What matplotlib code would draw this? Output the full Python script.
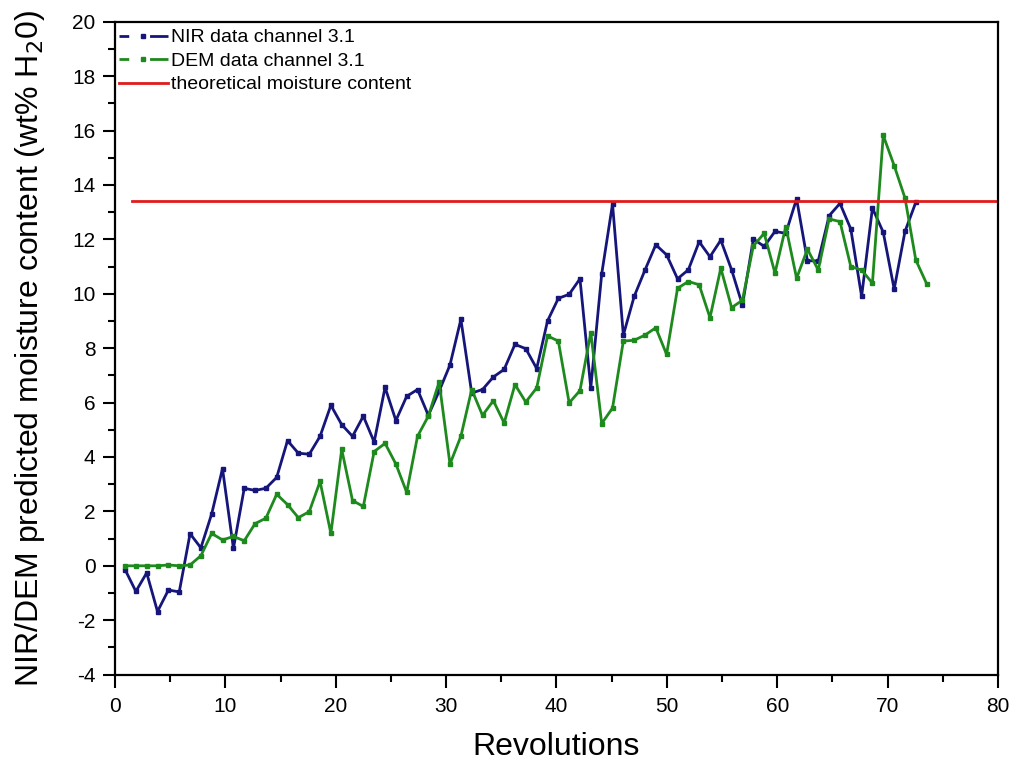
import matplotlib.pyplot as plt
from matplotlib.lines import Line2D
from matplotlib.ticker import MultipleLocator

plt.rcParams['font.family'] = ['Liberation Sans', 'DejaVu Sans']
plt.rcParams['axes.unicode_minus'] = False

# --- data ---
rev_nir = [0.91, 1.89, 2.87, 3.85, 4.84, 5.82, 6.80, 7.78, 8.76, 9.74,
           10.73, 11.71, 12.69, 13.67, 14.65, 15.63, 16.61, 17.60, 18.58, 19.56,
           20.54, 21.52, 22.50, 23.48, 24.47, 25.45, 26.43, 27.41, 28.39, 29.37,
           30.35, 31.34, 32.32, 33.30, 34.28, 35.26, 36.24, 37.22, 38.21, 39.19,
           40.17, 41.15, 42.13, 43.11, 44.10, 45.08, 46.06, 47.04, 48.02, 49.00,
           49.98, 50.97, 51.95, 52.93, 53.91, 54.89, 55.87, 56.85, 57.84, 58.82,
           59.80, 60.78, 61.76, 62.74, 63.72, 64.71, 65.69, 66.67, 67.65, 68.63,
           69.61, 70.60, 71.58, 72.56]
rev_dem = rev_nir + [73.54]

nir = [-0.14, -0.94, -0.26, -1.68, -0.89, -0.96, 1.18, 0.66, 1.91, 3.57,
       0.64, 2.85, 2.77, 2.85, 3.25, 4.60, 4.14, 4.10, 4.76, 5.90,
       5.19, 4.76, 5.50, 4.55, 6.56, 5.34, 6.23, 6.48, 5.53, 6.42,
       7.38, 9.06, 6.35, 6.48, 6.94, 7.22, 8.14, 7.98, 7.25, 9.00,
       9.83, 9.98, 10.55, 6.54, 10.73, 13.30, 8.48, 9.90, 10.87, 11.80,
       11.43, 10.55, 10.88, 11.91, 11.36, 11.97, 10.88, 9.58, 12.01, 11.74,
       12.29, 12.22, 13.49, 11.21, 11.21, 12.87, 13.32, 12.38, 9.90, 13.15,
       12.26, 10.17, 12.29, 13.36]

dem = [0.0, 0.0, 0.0, 0.0, 0.03, 0.0, 0.03, 0.37, 1.19, 0.95,
       1.08, 0.92, 1.55, 1.75, 2.63, 2.25, 1.77, 1.99, 3.10, 1.19,
       4.28, 2.40, 2.18, 4.20, 4.50, 3.74, 2.70, 4.76, 5.50, 6.76,
       3.74, 4.76, 6.48, 5.53, 6.07, 5.25, 6.66, 6.02, 6.54, 8.45,
       8.26, 5.99, 6.44, 8.57, 5.23, 5.80, 8.26, 8.29, 8.48, 8.75,
       7.77, 10.20, 10.45, 10.33, 9.12, 10.94, 9.49, 9.76, 11.76, 12.22,
       10.76, 12.47, 10.57, 11.64, 10.87, 12.75, 12.65, 11.00, 10.87, 10.39,
       15.82, 14.71, 13.52, 11.24, 10.37]

theory_rev = [1.5, 80]
theory_val = [13.4, 13.4]

labels = ['NIR data channel 3.1', 'DEM data channel 3.1', 'theoretical moisture content']

NIR_COLOR = '#16167a'
DEM_COLOR = '#1e8a1e'
RED = '#e01b1b'

# --- plot ---
fig = plt.figure(figsize=(10.16, 7.61), dpi=100)
ax = fig.add_axes([0.1132, 0.1135, 0.869, 0.858])

ax.plot(rev_nir, nir, color=NIR_COLOR, lw=2.0, marker='s', ms=3)
ax.plot(rev_dem, dem, color=DEM_COLOR, lw=2.0, marker='s', ms=3)
ax.plot(theory_rev, theory_val, color=RED, lw=2.0)

ax.set_xlim(0, 80)
ax.set_ylim(-4, 20)
ax.xaxis.set_major_locator(MultipleLocator(10))
ax.xaxis.set_minor_locator(MultipleLocator(5))
ax.yaxis.set_major_locator(MultipleLocator(2))
ax.yaxis.set_minor_locator(MultipleLocator(1))
ax.tick_params(which='major', direction='out', length=9, width=1.5, labelsize=15,
               top=False, right=False)
ax.tick_params(which='minor', direction='out', length=5, width=1.5, top=False, right=False)
ax.tick_params(axis='x', which='major', pad=7)
ax.tick_params(axis='y', which='major', pad=5)
for sp in ax.spines.values():
    sp.set_linewidth(1.6)

ax.set_xlabel('Revolutions', fontsize=23)
ax.xaxis.set_label_coords(0.5, -0.088)
ax.set_ylabel('NIR/DEM predicted moisture content (wt% H$_2$0)', fontsize=23)
ax.yaxis.set_label_coords(-0.077, 0.5)

# legend handles drawn like the original: dash, marker in a gap, dash
handles = [
    Line2D([], [], color=NIR_COLOR, lw=2.0, marker='s', ms=3, dashes=(3.5, 7.5, 20, 1)),
    Line2D([], [], color=DEM_COLOR, lw=2.0, marker='s', ms=3, dashes=(3.5, 7.5, 20, 1)),
    Line2D([], [], color=RED, lw=2.0),
]
ax.legend(handles, labels, loc='upper left', bbox_to_anchor=(0.0, 0.995), frameon=False,
          fontsize=14, handlelength=2.5, handletextpad=0.2, labelspacing=0.3,
          numpoints=1, borderaxespad=0.0, borderpad=0.2)

fig.savefig('out.png', dpi=100)
